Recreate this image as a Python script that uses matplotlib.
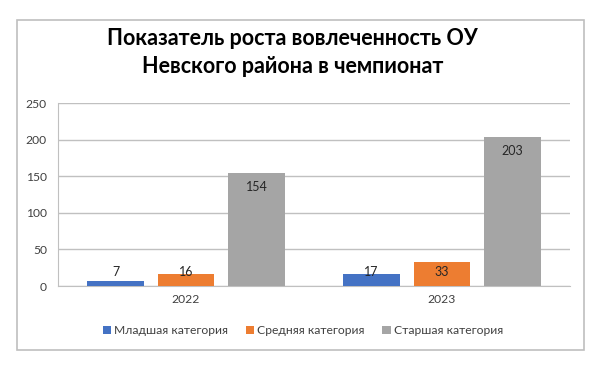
import matplotlib.pyplot as plt
from matplotlib.patches import Rectangle
import numpy as np

plt.rcParams['font.family'] = ['Lato', 'DejaVu Sans']

years = ['2022', '2023']
series_names = ['Младшая категория', 'Средняя категория', 'Старшая категория']
junior = [7, 17]
middle = [16, 33]
senior = [154, 203]
colors = ['#4472C4', '#ED7D31', '#A5A5A5']

fig = plt.figure(figsize=(6, 3.65), dpi=100)

# outer chart border
fig.patches.append(Rectangle((17 / 600, 15 / 365), 567 / 600, 330 / 365,
                             transform=fig.transFigure, fill=False,
                             edgecolor='#BFBFBF', linewidth=1.2))

ax = fig.add_axes([0.0967, 0.2164, 0.8533, 0.5014])

x = np.arange(len(years))
width = 0.22
step = 0.275
for i, (vals, name) in enumerate(zip([junior, middle, senior], series_names)):
    pos = x + (i - 1) * step
    ax.bar(pos, vals, width, color=colors[i], label=name, zorder=3)
    for p, v in zip(pos, vals):
        ax.text(p, max(v - 19, 19), str(v), ha='center', va='center',
                fontsize=9, color='#262626', zorder=4)

ax.set_ylim(0, 250)
ax.set_xlim(-0.5, 1.5)
ax.set_yticks(range(0, 251, 50))
ax.set_xticks(x)
ax.set_xticklabels(years)
ax.grid(axis='y', color='#C0C0C0', linewidth=1, zorder=0)
for s in ['top', 'right']:
    ax.spines[s].set_visible(False)
ax.spines['bottom'].set_color('#C0C0C0')
ax.spines['left'].set_color('#C0C0C0')
ax.tick_params(length=0, labelsize=8.7, colors='#404040')
ax.tick_params(axis='y', pad=8)
ax.tick_params(axis='x', pad=6)

fig.text(0.487, 0.857, 'Показатель роста вовлеченность ОУ\nНевского района в чемпионат',
         ha='center', va='center', fontsize=15.5, fontweight='bold',
         linespacing=1.4, color='#000000')

fig.legend(loc='center', bbox_to_anchor=(0.505, 0.094), ncol=3, frameon=False,
           fontsize=8.7, handlelength=0.7, handleheight=0.7, handletextpad=0.25,
           columnspacing=1.45, labelcolor='#404040')

plt.savefig('out.png', dpi=100)
